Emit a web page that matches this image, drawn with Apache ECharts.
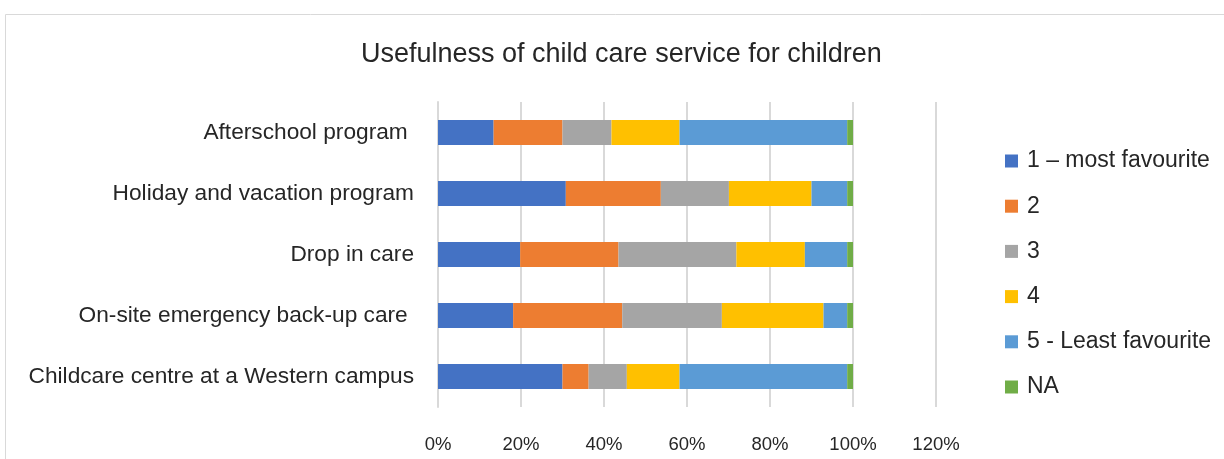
<!DOCTYPE html>
<html><head><meta charset="utf-8">
<script src="https://cdn.jsdelivr.net/npm/echarts@6/dist/echarts.min.js"></script>
<style>html,body{margin:0;padding:0;background:#fff}#c{width:1224px;height:459px}</style>
</head><body><div id="c"></div>
<script>
const categories = ["Afterschool program ", "Holiday and vacation program", "Drop in care", "On-site emergency back-up care ", "Childcare centre at a Western campus"];
const seriesNames = ["1 \u2013 most favourite", "2", "3", "4", "5 - Least favourite", "NA"];
const s1 = [13.4, 30.8, 19.8, 18.1, 30.0];
const s2 = [16.6, 22.9, 23.7, 26.3, 6.3];
const s3 = [11.8, 16.4, 28.4, 24.0, 9.2];
const s4 = [16.4, 19.9, 16.5, 24.5, 12.7];
const s5 = [40.4, 8.6, 10.2, 5.7, 40.4];
const sNA = [1.4, 1.4, 1.4, 1.4, 1.4];
const colors = ["#4472C4", "#ED7D31", "#A5A5A5", "#FFC000", "#5B9BD5", "#70AD47"];
const allData = [s1, s2, s3, s4, s5, sNA];

const FONT = "Liberation Sans";
const TXT = '#262626';
const chart = echarts.init(document.getElementById('c'));
chart.setOption({
  animation: false,
  textStyle: {fontFamily: FONT},
  graphic: [{type: 'rect', shape: {x: 5.5, y: 14.5, width: 1240, height: 460}, style: {fill: 'none', stroke: '#d9d9d9', lineWidth: 1}, silent: true}],
  title: {text: "Usefulness of child care service for children", left: 361, top: 41, padding: 0,
    textStyle: {fontFamily: FONT, fontSize: 27, fontWeight: 'normal', color: TXT}},
  legend: {orient: 'vertical', left: 1005, top: 149, padding: 0, itemWidth: 13, itemHeight: 13, itemGap: 21.2,
    icon: 'rect', data: seriesNames,
    textStyle: {fontFamily: FONT, fontSize: 23, color: TXT, lineHeight: 24, padding: [0,0,0,4]}},
  grid: {left: 438, right: 288, top: 102, bottom: 52, containLabel: false},
  xAxis: {type: 'value', min: 0, max: 120, interval: 20,
    axisLabel: {formatter: '{value}%', fontFamily: FONT, fontSize: 18.5, color: TXT, margin: 28},
    splitLine: {show: true, lineStyle: {color: '#d9d9d9', width: 2}},
    axisLine: {show: false}, axisTick: {show: false}},
  yAxis: {type: 'category', data: categories, inverse: true,
    axisLabel: {fontFamily: FONT, fontSize: 22.7, color: TXT, margin: 24},
    axisLine: {show: true, lineStyle: {color: '#d9d9d9', width: 2}}, axisTick: {show: false}},
  series: seriesNames.map((n, i) => ({
    name: n, type: 'bar', stack: 'total', barWidth: 25,
    itemStyle: {color: colors[i]}, data: allData[i]
  }))
});
</script></body></html>
